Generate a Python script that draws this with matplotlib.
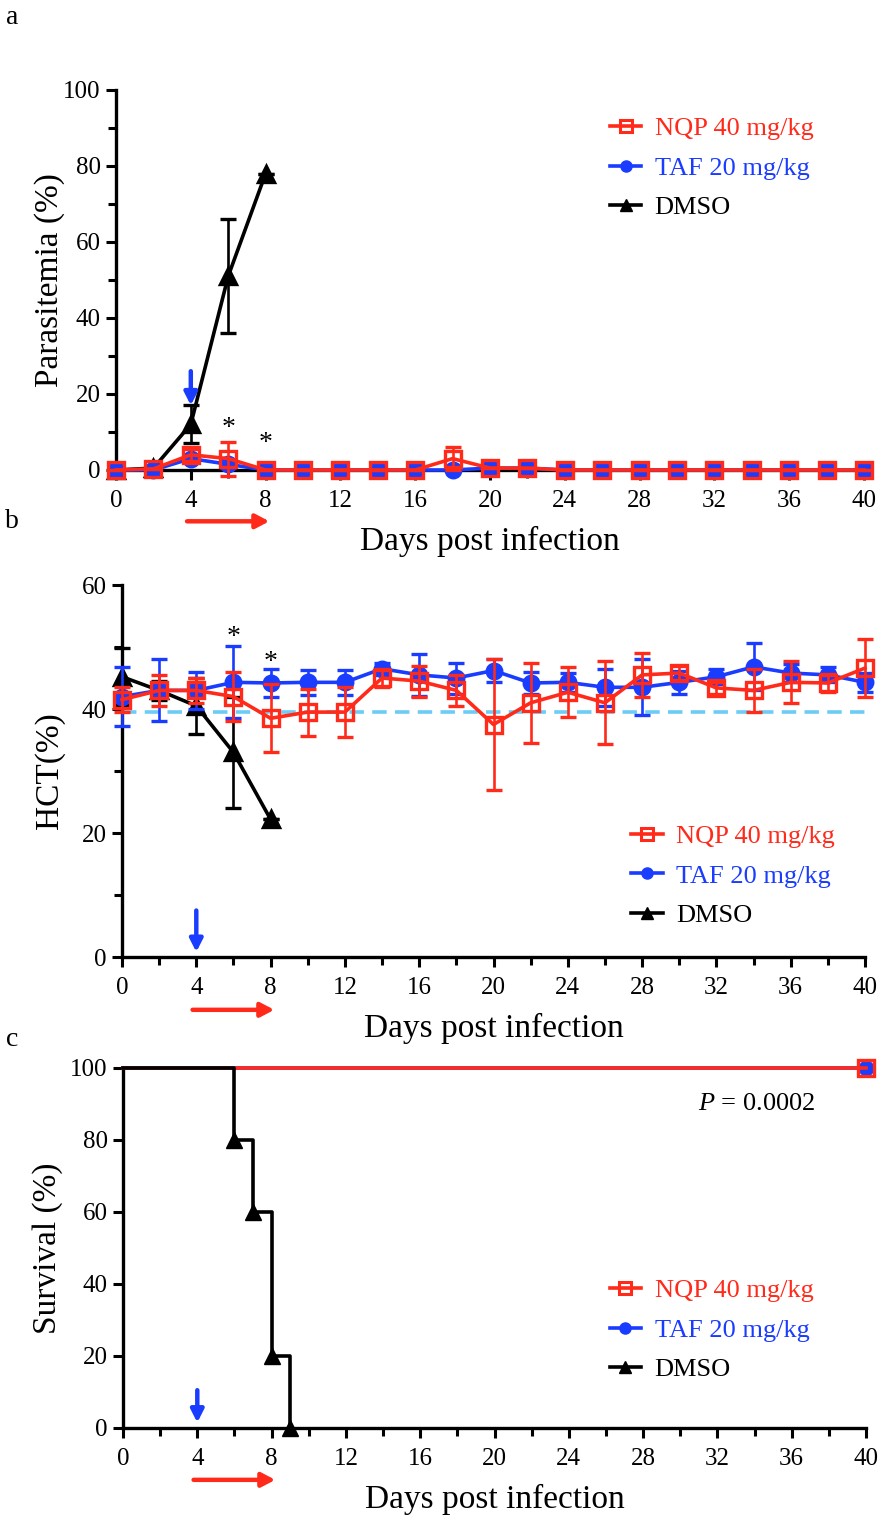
import matplotlib
matplotlib.use('Agg')
import matplotlib.pyplot as plt
from matplotlib.ticker import MultipleLocator
from matplotlib.lines import Line2D

plt.rcParams['font.family'] = ['Liberation Serif', 'DejaVu Serif']
plt.rcParams['mathtext.fontset'] = 'custom'
plt.rcParams['mathtext.rm'] = 'Liberation Serif'
plt.rcParams['mathtext.it'] = 'Liberation Serif:italic'

RED = '#ff2a1a'
BLUE = '#1a3cff'
BLACK = '#000000'
LIGHTBLUE = '#6cccf5'

# ---------------- data ----------------
days = list(range(0, 41, 2))
dmso_days = [0, 2, 4, 6, 8]

# Panel a: parasitemia (%)
para_nqp = [0, 0.3, 4, 3, 0, 0, 0, 0, 0, 3, 0.5, 0.5, 0, 0, 0, 0, 0, 0, 0, 0, 0]
para_nqp_err = [0, 0, 1.5, 4.5, 0, 0, 0, 0, 0, 3, 0, 0, 0, 0, 0, 0, 0, 0, 0, 0, 0]
para_taf = [0, 0, 3, 1.5, 0, 0, 0, 0, 0, 0, 0.5, 0.5, 0, 0, 0, 0, 0, 0, 0, 0, 0]
para_taf_err = [0, 0, 1, 1, 0, 0, 0, 0, 0, 0, 0, 0, 0, 0, 0, 0, 0, 0, 0, 0, 0]
para_dmso = [0, 0.5, 12, 51, 78]
para_dmso_err = [0, 0, 5, 15, 0]

# Panel b: HCT (%)
hct_nqp = [41.5, 43, 43, 42, 38.5, 39.5, 39.5, 45, 44.5, 43, 37.5, 41, 42.7, 41,
           45.5, 45.8, 43.4, 43, 44.3, 44.2, 46.6]
hct_nqp_err = [2, 2.5, 2, 4, 5.5, 3.8, 4, 1.5, 2.5, 2.5, 10.5, 6.5, 4, 6.7,
               3.6, 1.2, 1, 3.5, 3.4, 1.5, 4.7]
hct_taf = [42, 43, 43, 44.3, 44.2, 44.3, 44.3, 46.5, 45.5, 45, 46.2, 44.2, 44.3, 43.5,
           43.5, 44.3, 45.2, 46.8, 45.8, 45.5, 44.3]
hct_taf_err = [4.7, 5, 3, 5.8, 2.3, 2, 2, 1, 3.4, 2.5, 1.8, 1.7, 1.5, 3,
               4.5, 1.8, 1.2, 3.8, 1.5, 1.2, 1.5]
hct_dmso = [45.2, 43, 40.5, 33, 22.2]
hct_dmso_err = [4.6, 1.5, 4.5, 9, 0]
hct_baseline = 39.5

# Panel c: survival (%)
surv_days_dmso = [0, 6, 7, 8, 9]
surv_dmso = [100, 80, 60, 20, 0]
surv_days_trt = [0, 40]
surv_nqp = [100, 100]
surv_taf = [100, 100]

labels = ['NQP 40 mg/kg', 'TAF 20 mg/kg', 'DMSO']
star_days_a = [6, 8]
star_y_a = [11, 7]
star_days_b = [6, 8]
star_y_b = [51.5, 47.5]

# ---------------- style ----------------
W, H = 880, 1520
fig = plt.figure(figsize=(8.8, 15.2), dpi=100)

def ax_rect(x0, y0, x1, y1):
    return [x0 / W, 1 - y1 / H, (x1 - x0) / W, (y1 - y0) / H]

LW = 2.6
SPW = 2.4
TICK_FS = 18
LAB_FS = 24
LEG_FS = 19
MS_SQ = 11.5
MS_CI = 10.5
MS_TR = 11.5

def style_axes(ax, ymax, ymajor, yminor, x0, x1, ylab, ylab_x):
    ax.set_xlim(0, 40)
    ax.set_ylim(0, ymax)
    for s in ['top', 'right']:
        ax.spines[s].set_visible(False)
    for s in ['left', 'bottom']:
        ax.spines[s].set_linewidth(SPW)
    ax.xaxis.set_major_locator(MultipleLocator(4))
    ax.xaxis.set_minor_locator(MultipleLocator(2))
    ax.yaxis.set_major_locator(MultipleLocator(ymajor))
    if yminor:
        ax.yaxis.set_minor_locator(MultipleLocator(yminor))
    ax.tick_params(which='major', length=7, width=2.2, labelsize=TICK_FS)
    ax.tick_params(axis='x', which='major', pad=7.5)
    ax.tick_params(axis='y', which='major', pad=4)
    ax.tick_params(which='minor', length=6, width=2.2)
    ax.set_xlabel('Days post infection', fontsize=LAB_FS, labelpad=10)
    ax.set_ylabel(ylab, fontsize=LAB_FS, va='center')
    ax.yaxis.set_label_coords((ylab_x - x0) / (x1 - x0), 0.5)

def legend(ax, anchor):
    handles = [
        Line2D([], [], color=RED, lw=LW, marker='s', ms=8, mfc='none', mew=2.2),
        Line2D([], [], color=BLUE, lw=LW, marker='o', ms=8),
        Line2D([], [], color=BLACK, lw=LW, marker='^', ms=8),
    ]
    leg = ax.legend(handles, labels, loc='upper left', bbox_to_anchor=anchor,
                    frameon=False, fontsize=LEG_FS, handlelength=1.2,
                    handletextpad=0.5, labelspacing=0.6, borderaxespad=0, borderpad=0)
    for t, c in zip(leg.get_texts(), [RED, BLUE, BLACK]):
        t.set_color(c)

def eb(ax, x, y, e, color, marker, ms, mfc, z):
    ax.errorbar(x, y, yerr=e, color=color, lw=LW, marker=marker, ms=ms, mfc=mfc,
                mec=color, mew=2.4, ecolor=color, elinewidth=1.9, capsize=6,
                capthick=2.1, zorder=z, clip_on=False)

def arrows(ax, blue_y0, blue_y1, red_yfrac):
    ax.annotate('', xy=(4, blue_y1), xytext=(4, blue_y0),
                arrowprops=dict(arrowstyle='-|>,head_length=0.75,head_width=0.38',
                                color=BLUE, lw=3.2, shrinkA=0, shrinkB=0), zorder=6)
    ax.annotate('', xy=(8.2, red_yfrac), xytext=(3.8, red_yfrac),
                xycoords=('data', 'axes fraction'), textcoords=('data', 'axes fraction'),
                arrowprops=dict(arrowstyle='-|>,head_length=0.8,head_width=0.42',
                                color=RED, lw=3.2, shrinkA=0, shrinkB=0),
                annotation_clip=False)

# ---------------- panel a ----------------
axa = fig.add_axes(ax_rect(116, 90, 864, 470))
style_axes(axa, 100, 20, 10, 116, 864, 'Parasitemia (%)', 50)
eb(axa, dmso_days, para_dmso, para_dmso_err, BLACK, '^', MS_TR, BLACK, 3)
eb(axa, days, para_taf, para_taf_err, BLUE, 'o', MS_CI, BLUE, 4)
eb(axa, days, para_nqp, para_nqp_err, RED, 's', MS_SQ, 'none', 5)
for d, yv in zip(star_days_a, star_y_a):
    axa.text(d, yv, '*', ha='center', va='center', fontsize=20)
arrows(axa, 26, 17, -0.135)
legend(axa, (0.66, 0.929))

# ---------------- panel b ----------------
axb = fig.add_axes(ax_rect(122, 585, 865, 957))
style_axes(axb, 60, 20, 10, 122, 865, 'HCT(%)', 50)
axb.plot([0, 40], [hct_baseline, hct_baseline], color=LIGHTBLUE, lw=2.6,
         ls=(0, (4, 2.3)), zorder=2)
eb(axb, dmso_days, hct_dmso, hct_dmso_err, BLACK, '^', MS_TR, BLACK, 3)
eb(axb, days, hct_taf, hct_taf_err, BLUE, 'o', MS_CI, BLUE, 4)
eb(axb, days, hct_nqp, hct_nqp_err, RED, 's', MS_SQ, 'none', 5)
for d, yv in zip(star_days_b, star_y_b):
    axb.text(d, yv, '*', ha='center', va='center', fontsize=20)
arrows(axb, 7.5, 0.8, -0.142)
legend(axb, (0.685, 0.355))

# ---------------- panel c ----------------
axc = fig.add_axes(ax_rect(123, 1068, 866, 1428))
style_axes(axc, 100, 20, None, 123, 866, 'Survival (%)', 48)
axc.plot(surv_days_trt, surv_taf, color=BLUE, lw=LW, drawstyle='steps-post',
         marker='o', ms=MS_CI, markevery=[1], clip_on=False, zorder=3)
axc.plot(surv_days_trt, surv_nqp, color=RED, lw=LW, drawstyle='steps-post',
         marker='s', ms=MS_SQ, mfc='none', mew=2.4, markevery=[1], clip_on=False, zorder=4)
axc.plot(surv_days_dmso, surv_dmso, color=BLACK, lw=LW, drawstyle='steps-post',
         clip_on=False, zorder=5)
axc.plot(surv_days_dmso[1:], surv_dmso[1:], ls='none', marker='^', ms=MS_TR,
         color=BLACK, clip_on=False, zorder=6)
axc.text(37.3, 90, r'$P$ = 0.0002', ha='right', va='center', fontsize=LEG_FS)
arrows(axc, 10.5, 1.5, -0.144)
legend(axc, (0.655, 0.414))

# panel letters
for txt, yy in [('a', 18), ('b', 522), ('c', 1040)]:
    fig.text(12 / W, 1 - yy / H, txt, fontsize=20, ha='center', va='center')

fig.savefig('out.png', dpi=100)
